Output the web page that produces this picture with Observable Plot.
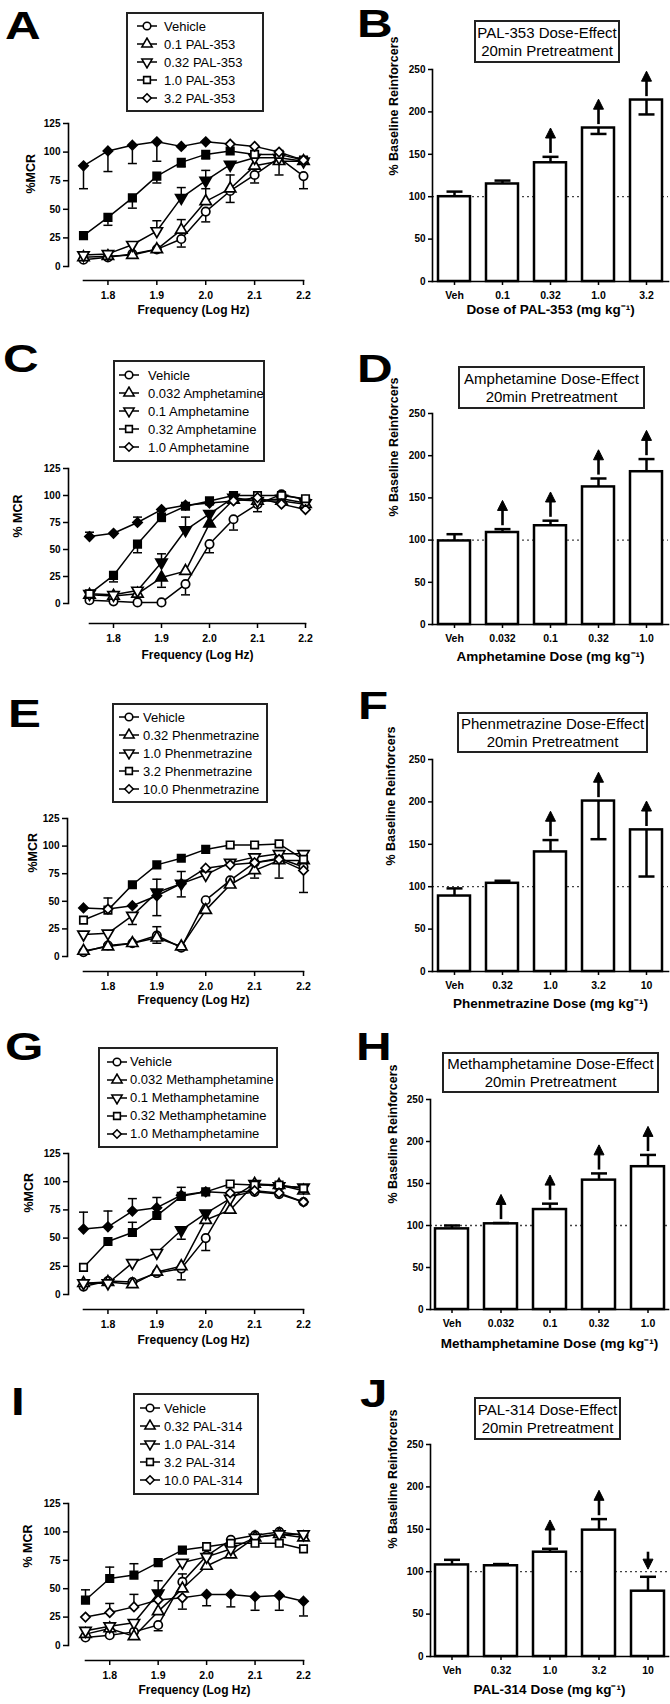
<!DOCTYPE html>
<html>
<head>
<meta charset="utf-8">
<script src="https://cdn.jsdelivr.net/npm/d3@7"></script>
<script src="https://cdn.jsdelivr.net/npm/@observablehq/plot@0.6"></script>
<style>
html,body{margin:0;padding:0;background:#fff;}
#page{position:relative;width:670px;height:1704px;overflow:hidden;background:#fff;font-family:"Liberation Sans",Arial,Helvetica,sans-serif;color:#000;}
.letter{position:absolute;font-weight:bold;font-size:38px;line-height:38px;transform-origin:0 0;transform:scaleX(1.3);}
.legend{position:absolute;box-sizing:border-box;border:2px solid #222;background:#fff;font-size:13px;display:flex;flex-direction:column;justify-content:center;}
.legend .row{display:flex;align-items:center;height:18px;white-space:nowrap;}
.tbox{position:absolute;box-sizing:border-box;border:2px solid #222;background:#fff;text-align:center;font-size:15px;line-height:18px;display:flex;flex-direction:column;justify-content:center;white-space:nowrap;}
</style>
</head>
<body>
<div id="page"></div>
<script>
// ---------------- DATA ----------------
const freq = [1.75, 1.80, 1.85, 1.90, 1.95, 2.00, 2.05, 2.10, 2.15, 2.20];
const freqTicks = [1.8, 1.9, 2.0, 2.1, 2.2];
const mcrTicks = [0, 25, 50, 75, 100, 125];
const pctTicks = [0, 50, 100, 150, 200, 250];

// Panel A (PAL-353 frequency-rate)
const aLabels = ["Vehicle", "0.1 PAL-353", "0.32 PAL-353", "1.0 PAL-353", "3.2 PAL-353"];
const aVeh = [6, 8, 11, 15, 24, 48, 66, 80, 95, 79];
const aVehErr = [0, 0, 0, 0, -7, -9, -10, -7, 0, -11];
const aVehFill = [0, 0, 0, 0, 0, 0, 0, 0, 0, 0];
const aD1 = [8, 9, 10, 15, 32, 57, 68, 88, 92, 92];
const aD1Err = [0, 0, 0, 0, 9, 11, 12, 0, -12, 0];
const aD1Fill = [0, 0, 0, 0, 0, 0, 0, 0, 0, 0];
const aD2 = [10, 11, 19, 31, 60, 75, 89, 95, 95, 92];
const aD2Err = [0, 0, 0, 9, 9, 9, 0, 0, 0, 0];
const aD2Fill = [0, 0, 0, 0, 1, 1, 1, 0, 0, 0];
const aD3 = [27, 43, 60, 79, 91, 98, 101, 98, 98, 93];
const aD3Err = [0, -7, -9, -6, -4, -4, 0, 0, 0, 0];
const aD3Fill = [1, 1, 1, 1, 1, 1, 1, 0, 0, 0];
const aD4 = [88, 101, 106, 109, 105, 109, 107, 105, 100, 93];
const aD4Err = [-20, -18, -16, -17, 0, 0, 0, 0, 0, 0];
const aD4Fill = [1, 1, 1, 1, 1, 1, 0, 0, 0, 0];

// Panel C (Amphetamine)
const cLabels = ["Vehicle", "0.032 Amphetamine", "0.1 Amphetamine", "0.32 Amphetamine", "1.0 Amphetamine"];
const cVeh = [3, 2, 1, 1, 18, 55, 78, 92, 101, 96];
const cVehErr = [0, 0, 0, 0, -10, -8, -10, -7, 0, 0];
const cVehFill = [0, 0, 0, 0, 0, 0, 0, 0, 0, 0];
const cD1 = [8, 7, 9, 24, 30, 74, 96, 95, 95, 92];
const cD1Err = [0, 0, 0, -9, 0, 0, 0, 0, 0, 0];
const cD1Fill = [0, 0, 0, 1, 0, 1, 0, 0, 0, 0];
const cD2 = [9, 8, 12, 38, 68, 83, 98, 95, 97, 93];
const cD2Err = [0, 0, 0, 8, 12, 0, 0, 0, 0, 0];
const cD2Fill = [0, 0, 0, 1, 1, 1, 1, 0, 0, 0];
const cD3 = [9, 26, 55, 80, 90, 95, 100, 100, 100, 97];
const cD3Err = [0, -6, -8, -4, 0, 0, 0, 0, 0, 0];
const cD3Fill = [0, 1, 1, 1, 1, 1, 1, 0, 0, 0];
const cD4 = [62, 65, 75, 87, 91, 93, 95, 98, 92, 87];
const cD4Err = [4, 0, 5, 0, 0, 0, 0, 0, 0, 0];
const cD4Fill = [1, 1, 1, 1, 1, 1, 0, 0, 0, 0];

// Panel E (Phenmetrazine)
const eLabels = ["Vehicle", "0.32 Phenmetrazine", "1.0 Phenmetrazine", "3.2 Phenmetrazine", "10.0 Phenmetrazine"];
const eVeh = [4, 10, 12, 19, 8, 51, 69, 85, 89, 81];
const eVehErr = [0, 0, 0, 8, 0, 0, 0, 0, 0, 0];
const eVehFill = [0, 0, 0, 0, 0, 0, 0, 0, 0, 0];
const eD1 = [5, 9, 12, 17, 9, 42, 65, 78, 87, 87];
const eD1Err = [0, 0, 0, -5, 0, 0, 0, -7, 0, 0];
const eD1Fill = [0, 0, 0, 0, 0, 0, 0, 0, 0, 0];
const eD2 = [20, 21, 37, 58, 66, 74, 85, 90, 93, 93];
const eD2Err = [0, -10, -8, 12, 11, 0, 0, 0, 0, 0];
const eD2Fill = [0, 0, 0, 1, 1, 0, 0, 0, 0, 0];
const eD3 = [33, 42, 65, 83, 89, 97, 101, 101, 102, 88];
const eD3Err = [0, 11, 0, 0, 0, 0, 0, 0, 0, 0];
const eD3Fill = [0, 0, 1, 1, 1, 1, 0, 0, 0, 0];
const eD4 = [44, 43, 46, 55, 66, 80, 83, 85, 88, 78];
const eD4Err = [0, 0, 0, -18, -12, 0, 0, 0, -17, -20];
const eD4Fill = [1, 0, 1, 1, 1, 0, 0, 0, 0, 0];

// Panel G (Methamphetamine)
const gLabels = ["Vehicle", "0.032 Methamphetamine", "0.1 Methamphetamine", "0.32 Methamphetamine", "1.0 Methamphetamine"];
const gVeh = [7, 12, 11, 19, 23, 50, 87, 91, 89, 82];
const gVehErr = [0, 0, 0, 0, -10, -11, 0, 0, 0, 0];
const gVehFill = [0, 0, 0, 0, 0, 0, 0, 0, 0, 0];
const gD1 = [10, 11, 9, 20, 25, 66, 75, 98, 97, 92];
const gD1Err = [0, 0, 0, 0, 0, 0, 0, 0, 0, 0];
const gD1Fill = [0, 0, 0, 0, 0, 0, 0, 0, 0, 0];
const gD2 = [10, 10, 28, 37, 57, 72, 85, 98, 96, 95];
const gD2Err = [0, 0, 0, 0, -8, 0, 0, 0, 0, 0];
const gD2Fill = [0, 0, 0, 0, 1, 1, 0, 0, 0, 0];
const gD3 = [24, 47, 55, 70, 87, 91, 98, 97, 97, 94];
const gD3Err = [0, 0, 9, 0, 0, 0, 0, 0, 0, 0];
const gD3Fill = [0, 1, 1, 1, 1, 1, 0, 0, 0, 0];
const gD4 = [58, 60, 74, 77, 88, 91, 90, 92, 90, 82];
const gD4Err = [15, 14, 11, 9, 7, 0, 0, 0, 0, 0];
const gD4Fill = [1, 1, 1, 1, 1, 1, 0, 0, 0, 0];

// Panel I (PAL-314)
const iLabels = ["Vehicle", "0.32 PAL-314", "1.0 PAL-314", "3.2 PAL-314", "10.0 PAL-314"];
const iVeh = [7, 9, 12, 18, 56, 79, 93, 97, 100, 97];
const iVehErr = [0, 0, 0, -5, 0, 0, 0, 0, 0, 0];
const iVehFill = [0, 0, 0, 0, 0, 0, 0, 0, 0, 0];
const iD1 = [10, 15, 8, 30, 50, 70, 80, 95, 98, 95];
const iD1Err = [0, 0, 0, 0, 13, 0, 0, 0, 0, 0];
const iD1Fill = [0, 0, 0, 0, 0, 0, 0, 0, 0, 0];
const iD2 = [13, 17, 20, 46, 73, 78, 85, 95, 98, 98];
const iD2Err = [0, 0, 0, 11, 0, 0, 0, 0, 0, 0];
const iD2Fill = [0, 0, 0, 1, 0, 0, 0, 0, 0, 0];
const iD3 = [40, 59, 62, 73, 84, 87, 90, 90, 90, 85];
const iD3Err = [9, 10, 10, 0, 0, 0, 0, 0, 0, 0];
const iD3Fill = [1, 1, 1, 1, 1, 0, 0, 0, 0, 0];
const iD4 = [25, 29, 34, 40, 42, 45, 45, 43, 44, 39];
const iD4Err = [0, 8, 11, 0, -10, -10, -11, -12, -13, -13];
const iD4Fill = [0, 0, 0, 0, 0, 1, 1, 1, 1, 1];

// Bar panels (dose-effect); arrows: 1 up, -1 down, 0 none
const bDoses = ["Veh", "0.1", "0.32", "1.0", "3.2"];
const bMean = [100, 115, 140, 181, 214];
const bErr = [6, 4, 7, -7, -17];
const bArrow = [0, 0, 1, 1, 1];

const dDoses = ["Veh", "0.032", "0.1", "0.32", "1.0"];
const dMean = [99, 109, 117, 163, 181];
const dErr = [8, 4, 6, 10, 15];
const dArrow = [0, 1, 1, 1, 1];

const fDoses = ["Veh", "0.32", "1.0", "3.2", "10"];
const fMean = [89, 104, 141, 201, 167];
const fErr = [9, 3, 14, -45, -55];
const fArrow = [0, 0, 1, 1, 1];

const hDoses = ["Veh", "0.032", "0.1", "0.32", "1.0"];
const hMean = [96, 102, 119, 154, 170];
const hErr = [4, 1, 7, 8, 14];
const hArrow = [0, 1, 1, 1, 1];

const jDoses = ["Veh", "0.32", "1.0", "3.2", "10"];
const jMean = [108, 107, 123, 149, 77];
const jErr = [6, 2, 4, 13, 17];
const jArrow = [0, 0, 1, 1, -1];

// ---------------- RENDERING ----------------
const page = document.getElementById("page");
const FONT = '"Liberation Sans", Arial, Helvetica, sans-serif';

const downTri = {
  draw(ctx, size) {
    const y = -Math.sqrt(size / (Math.sqrt(3) * 3));
    ctx.moveTo(0, -y * 2);
    ctx.lineTo(-Math.sqrt(3) * y, y);
    ctx.lineTo(Math.sqrt(3) * y, y);
    ctx.closePath();
  }
};
const capSym = (w) => ({draw(ctx) { ctx.moveTo(-w, 0); ctx.lineTo(w, 0); }});
const headUp = {draw(ctx) { ctx.moveTo(0, 0); ctx.lineTo(5, 10); ctx.lineTo(-5, 10); ctx.closePath(); }};
const headDown = {draw(ctx) { ctx.moveTo(0, 0); ctx.lineTo(5, -10); ctx.lineTo(-5, -10); ctx.closePath(); }};
const plotSymbols = ["circle", "triangle", downTri, "square", "diamond2"];
const legendSymbols = [d3.symbolCircle, d3.symbolTriangle, downTri, d3.symbolSquare, d3.symbolDiamond2];

function addLetter(ch, x, capTop) {
  const d = document.createElement("div");
  d.className = "letter";
  d.textContent = ch;
  d.style.left = x + "px";
  d.style.top = (capTop - 5) + "px";
  page.appendChild(d);
}

function addLegend(labels, lg) {
  const box = document.createElement("div");
  box.className = "legend";
  Object.assign(box.style, {left: lg.x + "px", top: lg.y + "px", width: lg.w + "px", height: lg.h + "px", paddingLeft: lg.pad + "px"});
  labels.forEach((lab, k) => {
    const row = document.createElement("div");
    row.className = "row";
    const svg = d3.create("svg").attr("width", 20).attr("height", 14).style("margin-right", lg.gap + "px").style("flex", "none");
    svg.append("line").attr("x1", 0).attr("x2", 20).attr("y1", 7).attr("y2", 7).attr("stroke", "#000").attr("stroke-width", 1.5);
    svg.append("path").attr("transform", "translate(10,7)").attr("d", d3.symbol(legendSymbols[k], 45)())
      .attr("fill", "#fff").attr("stroke", "#000").attr("stroke-width", 1.6);
    row.appendChild(svg.node());
    const sp = document.createElement("span");
    sp.textContent = lab;
    row.appendChild(sp);
    box.appendChild(row);
  });
  page.appendChild(box);
}

function addTitleBox(lines, b) {
  const box = document.createElement("div");
  box.className = "tbox";
  Object.assign(box.style, {left: b.x + "px", top: b.y + "px", width: b.w + "px", height: b.h + "px"});
  lines.forEach(t => { const s = document.createElement("div"); s.textContent = t; box.appendChild(s); });
  page.appendChild(box);
}

function curveChart(series, L, yTitle) {
  const rows = [];
  series.forEach((s, k) => s[0].forEach((v, i) => rows.push({k, f: freq[i], v, e: s[1][i], filled: s[2][i] === 1})));
  const errRows = rows.filter(d => d.e !== 0);
  const mT = 12, mB = 50;
  const frameMid = (L.yt + L.xb) / 2;
  const marks = [
    Plot.frame({anchor: "left", insetBottom: L.xb - L.y0, stroke: "#000", strokeWidth: 1.6}),
    Plot.frame({anchor: "bottom", insetLeft: L.xs - L.L, stroke: "#000", strokeWidth: 1.6}),
    Plot.axisY({ticks: mcrTicks, tickSize: 5, tickPadding: 3, label: null, strokeWidth: 1.5, fontSize: 10, fontWeight: "bold"}),
    Plot.axisX({ticks: freqTicks, tickFormat: d3.format(".1f"), tickSize: 5, tickPadding: 6, label: null, strokeWidth: 1.5, fontSize: 10.5, fontWeight: "bold"}),
    Plot.line(rows, {x: "f", y: "v", z: "k", stroke: "#000", strokeWidth: 1.5}),
    Plot.ruleX(errRows, {x: "f", y1: "v", y2: d => d.v + d.e, stroke: "#000", strokeWidth: 1.5}),
    Plot.dot(errRows, {x: "f", y: d => d.v + d.e, symbol: capSym(4.5), fill: "none", stroke: "#000", strokeWidth: 1.5})
  ];
  series.forEach((s, k) => {
    const sub = rows.filter(d => d.k === k);
    marks.push(Plot.dot(sub.filter(d => !d.filled), {x: "f", y: "v", symbol: plotSymbols[k], r: 4.2, fill: "#fff", stroke: "#000", strokeWidth: 1.7}));
    marks.push(Plot.dot(sub.filter(d => d.filled), {x: "f", y: "v", symbol: plotSymbols[k], r: 4.2, fill: "#000", stroke: "#000", strokeWidth: 1.7}));
  });
  marks.push(Plot.text(["Frequency (Log Hz)"], {text: d => d, frameAnchor: "bottom", dy: L.tt, dx: (L.xs - L.L) / 2, fontSize: 12, fontWeight: "bold"}));
  marks.push(Plot.text([yTitle], {text: d => d, frameAnchor: "left", rotate: -90, dx: L.ytx - L.L, dy: L.ytc - frameMid, fontSize: 12.5, fontWeight: "bold"}));
  const chart = Plot.plot({
    width: 335, height: (L.xb - L.yt) + mT + mB,
    marginLeft: L.L, marginRight: 335 - L.xe, marginTop: mT, marginBottom: mB,
    x: {domain: [freq[0], freq[freq.length - 1]], insetLeft: L.xs - L.L},
    y: {domain: [0, 125], insetBottom: L.xb - L.y0},
    style: {fontFamily: FONT, fontSize: "10px", fontWeight: "bold", color: "#000", background: "transparent", overflow: "visible"},
    marks
  });
  chart.style.position = "absolute";
  chart.style.left = "0px";
  chart.style.top = (L.yt - mT) + "px";
  page.appendChild(chart);
}

function barChart(doses, means, errs, arrows, L, xTitle) {
  const rows = doses.map((d, i) => ({d, m: means[i], e: errs[i], a: arrows[i], top: Math.max(means[i], means[i] + errs[i])}));
  const errRows = rows.filter(r => r.e !== 0);
  const up = rows.filter(r => r.a === 1).map(r => ({d: r.d, base: r.top + 4, tip: r.top + 34}));
  const down = rows.filter(r => r.a === -1).map(r => ({d: r.d, base: r.top + 29, tip: r.top + 9}));
  const mT = 12, mB = 50;
  const frameMid = (L.yt + L.y0) / 2;
  const chart = Plot.plot({
    width: 335, height: (L.y0 - L.yt) + mT + mB,
    marginLeft: L.L - 335, marginRight: 670 - L.R, marginTop: mT, marginBottom: mB,
    x: {domain: doses, paddingInner: 0.33, paddingOuter: 0.08},
    y: {domain: [0, 250]},
    style: {fontFamily: FONT, fontSize: "10px", fontWeight: "bold", color: "#000", background: "transparent", overflow: "visible"},
    marks: [
      Plot.ruleY([100], {stroke: "#444", strokeWidth: 1.3, strokeDasharray: "2,3"}),
      Plot.barY(rows, {x: "d", y: "m", fill: "#fff", stroke: "#000", strokeWidth: 2.5}),
      Plot.ruleX(errRows, {x: "d", y1: "m", y2: r => r.m + r.e, stroke: "#000", strokeWidth: 2.5}),
      Plot.dot(errRows, {x: "d", y: r => r.m + r.e, symbol: capSym(8), fill: "none", stroke: "#000", strokeWidth: 2.5}),
      Plot.ruleX(up, {x: "d", y1: "base", y2: r => r.tip - 6, stroke: "#000", strokeWidth: 2.6}),
      Plot.dot(up, {x: "d", y: "tip", symbol: headUp, fill: "#000", stroke: "#000", strokeWidth: 1}),
      Plot.ruleX(down, {x: "d", y1: "base", y2: r => r.tip + 6, stroke: "#000", strokeWidth: 2.6}),
      Plot.dot(down, {x: "d", y: "tip", symbol: headDown, fill: "#000", stroke: "#000", strokeWidth: 1}),
      Plot.frame({anchor: "left", stroke: "#000", strokeWidth: 1.6}),
      Plot.frame({anchor: "bottom", stroke: "#000", strokeWidth: 1.6}),
      Plot.axisY({ticks: pctTicks, tickSize: 4, tickPadding: 3, label: null, strokeWidth: 1.5, fontSize: 10, fontWeight: "bold"}),
      Plot.axisX({tickSize: 4, tickPadding: 6, label: null, strokeWidth: 1.5, fontSize: 10.5, fontWeight: "bold"}),
      Plot.text([xTitle], {text: d => d, frameAnchor: "bottom", dy: L.tt, fontSize: 13.5, fontWeight: "bold"}),
      Plot.text(["% Baseline Reinforcers"], {text: d => d, frameAnchor: "left", rotate: -90, dx: L.ytx - L.L, dy: L.ytc - frameMid, fontSize: 12.5, fontWeight: "bold"})
    ]
  });
  chart.style.position = "absolute";
  chart.style.left = "335px";
  chart.style.top = (L.yt - mT) + "px";
  page.appendChild(chart);
}

// ---- Layout (pixel positions of frames, titles, boxes) ----
const layA = {L: 68, xs: 83, xe: 303, yt: 123, y0: 266, xb: 280, tt: 33, ytx: 30, ytc: 193};
const layC = {L: 68, xs: 89, xe: 305, yt: 468, y0: 603, xb: 623, tt: 35, ytx: 17, ytc: 537};
const layE = {L: 67, xs: 83, xe: 303, yt: 818, y0: 956, xb: 971, tt: 32, ytx: 32, ytc: 872};
const layG = {L: 68, xs: 83, xe: 303, yt: 1153, y0: 1294, xb: 1309, tt: 34, ytx: 28, ytc: 1212};
const layI = {L: 68, xs: 85, xe: 303, yt: 1503, y0: 1645, xb: 1660, tt: 33, ytx: 27, ytc: 1567};

const layB = {L: 432, R: 668, yt: 69, y0: 281, tt: 32, ytx: 393, ytc: 175};
const layD = {L: 432, R: 668, yt: 413, y0: 624, tt: 36, ytx: 393, ytc: 516};
const layF = {L: 432, R: 668, yt: 759, y0: 971, tt: 36, ytx: 390, ytc: 865};
const layH = {L: 430, R: 668, yt: 1099, y0: 1309, tt: 38, ytx: 392, ytc: 1203};
const layJ = {L: 430, R: 668, yt: 1444, y0: 1656, tt: 37, ytx: 392, ytc: 1548};

// Curves
curveChart([[aVeh, aVehErr, aVehFill], [aD1, aD1Err, aD1Fill], [aD2, aD2Err, aD2Fill], [aD3, aD3Err, aD3Fill], [aD4, aD4Err, aD4Fill]], layA, "%MCR");
curveChart([[cVeh, cVehErr, cVehFill], [cD1, cD1Err, cD1Fill], [cD2, cD2Err, cD2Fill], [cD3, cD3Err, cD3Fill], [cD4, cD4Err, cD4Fill]], layC, "% MCR");
curveChart([[eVeh, eVehErr, eVehFill], [eD1, eD1Err, eD1Fill], [eD2, eD2Err, eD2Fill], [eD3, eD3Err, eD3Fill], [eD4, eD4Err, eD4Fill]], layE, "%MCR");
curveChart([[gVeh, gVehErr, gVehFill], [gD1, gD1Err, gD1Fill], [gD2, gD2Err, gD2Fill], [gD3, gD3Err, gD3Fill], [gD4, gD4Err, gD4Fill]], layG, "%MCR");
curveChart([[iVeh, iVehErr, iVehFill], [iD1, iD1Err, iD1Fill], [iD2, iD2Err, iD2Fill], [iD3, iD3Err, iD3Fill], [iD4, iD4Err, iD4Fill]], layI, "% MCR");

// Bars
barChart(bDoses, bMean, bErr, bArrow, layB, "Dose of PAL-353 (mg kg\u207B\u00B9)");
barChart(dDoses, dMean, dErr, dArrow, layD, "Amphetamine Dose (mg kg\u207B\u00B9)");
barChart(fDoses, fMean, fErr, fArrow, layF, "Phenmetrazine Dose (mg kg\u207B\u00B9)");
barChart(hDoses, hMean, hErr, hArrow, layH, "Methamphetamine Dose (mg kg\u207B\u00B9)");
barChart(jDoses, jMean, jErr, jArrow, layJ, "PAL-314 Dose (mg kg\u207B\u00B9)");

// Legends
addLegend(aLabels, {x: 126, y: 12, w: 138, h: 100, pad: 9, gap: 7});
addLegend(cLabels, {x: 113, y: 360, w: 152, h: 102, pad: 4, gap: 9});
addLegend(eLabels, {x: 112, y: 703, w: 156, h: 100, pad: 5, gap: 4});
addLegend(gLabels, {x: 98, y: 1047, w: 180, h: 101, pad: 7, gap: 3});
addLegend(iLabels, {x: 133, y: 1393, w: 126, h: 102, pad: 5, gap: 4});

// Title boxes
addTitleBox(["PAL-353 Dose-Effect", "20min Pretreatment"], {x: 474, y: 20, w: 146, h: 43});
addTitleBox(["Amphetamine Dose-Effect", "20min Pretreatment"], {x: 458, y: 366, w: 187, h: 43});
addTitleBox(["Phenmetrazine Dose-Effect", "20min Pretreatment"], {x: 457, y: 712, w: 191, h: 41});
addTitleBox(["Methamphetamine Dose-Effect", "20min Pretreatment"], {x: 442, y: 1052, w: 217, h: 41});
addTitleBox(["PAL-314 Dose-Effect", "20min Pretreatment"], {x: 474, y: 1397, w: 147, h: 43});

// Panel letters
addLetter("A", 5, 12);
addLetter("B", 357, 10);
addLetter("C", 3, 345);
addLetter("D", 357, 355);
addLetter("E", 8, 700);
addLetter("F", 358, 692);
addLetter("G", 5, 1033);
addLetter("H", 356, 1033);
addLetter("I", 11, 1388);
addLetter("J", 360, 1380);
</script>
</body>
</html>
